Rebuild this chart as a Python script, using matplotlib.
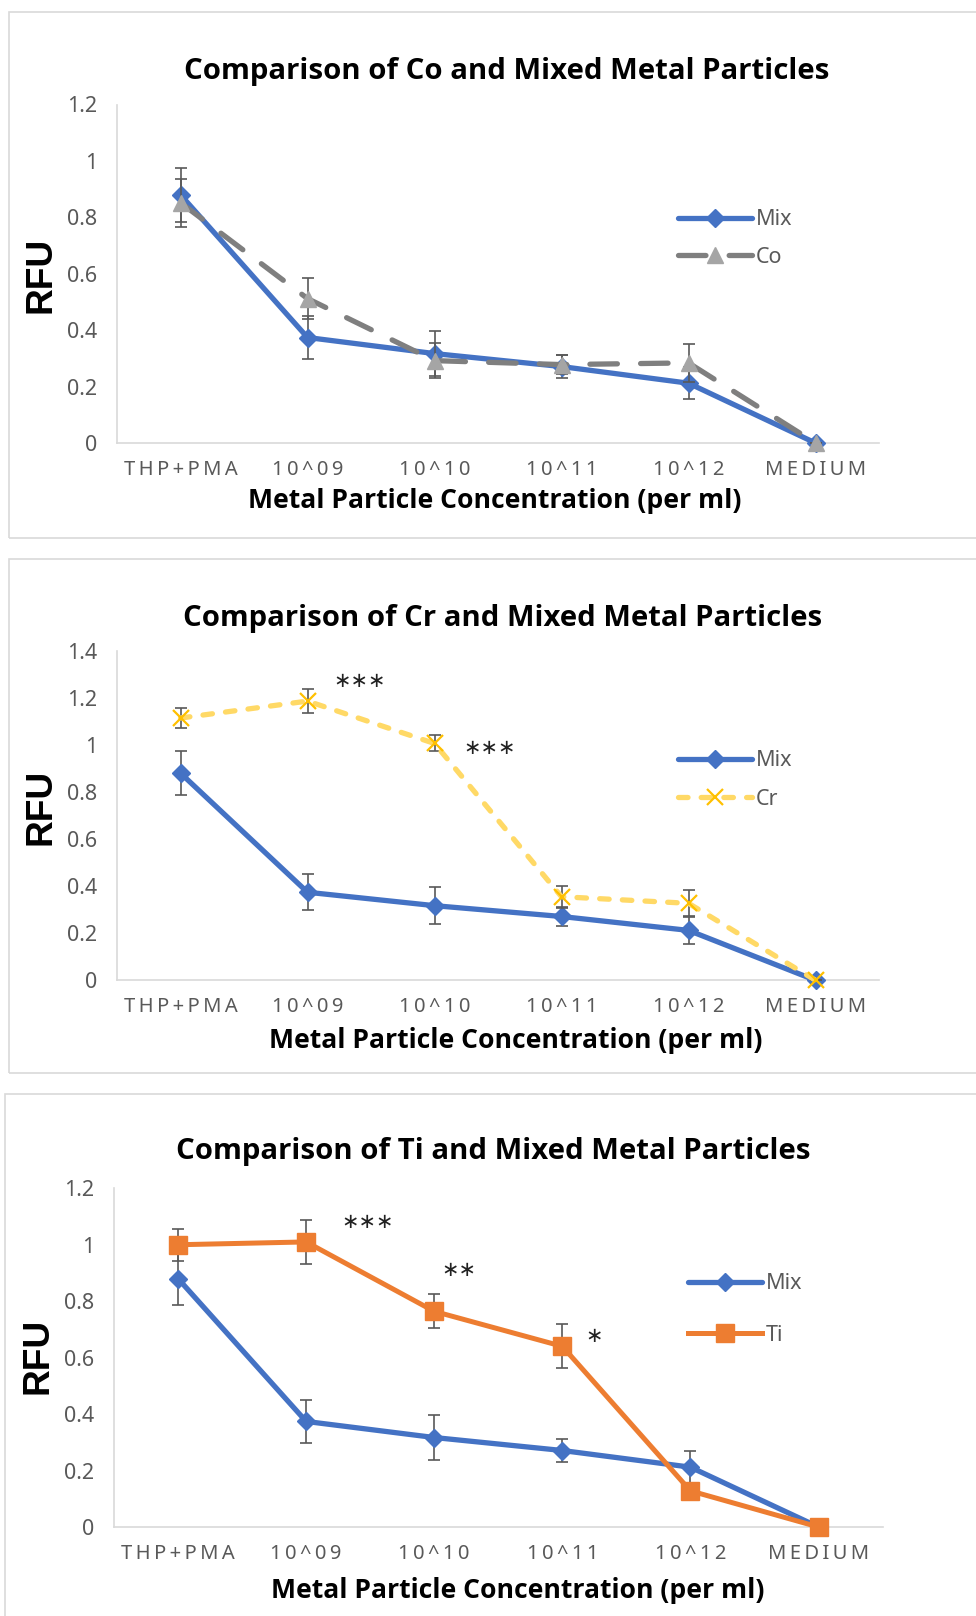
import matplotlib
matplotlib.use("Agg")
import matplotlib.pyplot as plt
from matplotlib.patches import Rectangle

# ---------------- data ----------------
categories = ["THP+PMA", "10^09", "10^10", "10^11", "10^12", "MEDIUM"]

mix = [0.880, 0.374, 0.317, 0.271, 0.212, 0.0]
mix_err = [0.095, 0.076, 0.079, 0.040, 0.057, 0.0]

co = [0.852, 0.512, 0.292, 0.278, 0.284, 0.0]
co_err = [0.085, 0.074, 0.062, 0.034, 0.068, 0.0]

cr = [1.114, 1.186, 1.006, 0.355, 0.327, 0.0]
cr_err = [0.042, 0.050, 0.034, 0.047, 0.055, 0.0]

ti = [1.000, 1.010, 0.764, 0.640, 0.128, 0.0]
ti_err = [0.057, 0.078, 0.060, 0.078, 0.020, 0.0]

titles = ["Comparison of Co and Mixed Metal Particles",
          "Comparison of Cr and Mixed Metal Particles",
          "Comparison of Ti and Mixed Metal Particles"]
xlabel_text = "Metal Particle Concentration (per ml)"
ylabel_text = "RFU"

# ---------------- style ----------------
W, H = 976, 1616
fig = plt.figure(figsize=(W / 100, H / 100), dpi=100)
fig.patch.set_facecolor("white")

def fx(p):
    return p / W

def fy(p):
    return 1 - p / H

GREY_TXT = "#595959"
AXIS_C = "#D9D9D9"
BLUE = "#4472C4"
LIGHT_FONT = ["Noto Sans", "DejaVu Sans"]
BOLD_FONT = ["Open Sans", "Noto Sans CJK SC", "DejaVu Sans"]

renderer = fig.canvas.get_renderer()

def fit_width(t, target):
    w = t.get_window_extent(renderer).width
    t.set_fontsize(t.get_fontsize() * target / w)

def fit_height(t, target):
    h = t.get_window_extent(renderer).height
    t.set_fontsize(t.get_fontsize() * target / h)

comp_styles = {
    "Co": dict(color="#7F7F7F", marker="^", mfc="#A5A5A5", mec="#A5A5A5",
               ms=12, lw=3.8, dashes=(5.2, 4.4), dash_capstyle="round"),
    "Cr": dict(color="#FFD966", marker="x", mfc="#FFC000", mec="#FFC000",
               ms=11, mew=1.6, lw=3.8, dashes=(1.8, 2.5), dash_capstyle="round"),
    "Ti": dict(color="#ED7D31", marker="s", mfc="#ED7D31", mec="#ED7D31",
               ms=12.5, lw=3.6),
}

panels = [
    dict(frame=(9, 11.5, 1000, 538), ax=(117, 879, 104.5, 443), ymax=1.2,
         yticks=[0, 0.2, 0.4, 0.6, 0.8, 1.0, 1.2],
         name="Co", vals=co, errs=co_err,
         title=(506.5, 72, 646), xlab=(495, 501, 493), rfu=(41, 275),
         legend=(678, 238.5), legspace=0.75, notes=[]),
    dict(frame=(9, 558.5, 1000, 1073), ax=(117, 879, 650.7, 980.3), ymax=1.4,
         yticks=[0, 0.2, 0.4, 0.6, 0.8, 1.0, 1.2, 1.4],
         name="Cr", vals=cr, errs=cr_err,
         title=(503, 619, 638), xlab=(516, 1040, 492), rfu=(41, 807),
         legend=(678, 780), legspace=0.82,
         notes=[("***", 1.413, 1.273), ("***", 2.437, 0.988)]),
    dict(frame=(5, 1094, 1000, 1700), ax=(114, 882.6, 1188.3, 1527), ymax=1.2,
         yticks=[0, 0.2, 0.4, 0.6, 0.8, 1.0, 1.2],
         name="Ti", vals=ti, errs=ti_err,
         title=(493, 1151, 633), xlab=(518, 1591, 492), rfu=(38, 1356),
         legend=(688, 1309.5), legspace=1.4,
         notes=[("***", 1.483, 1.081), ("**", 2.193, 0.911), ("*", 3.247, 0.677)]),
]

x = list(range(len(categories)))
tick_labels = ["\u2006".join(c) for c in categories]

for i, p in enumerate(panels):
    # outer frame of each chart
    fl, ft, fr, fb = p["frame"]
    fig.patches.append(Rectangle((fx(fl), fy(fb)), fx(fr) - fx(fl), fy(ft) - fy(fb),
                                 transform=fig.transFigure, fill=False,
                                 edgecolor=AXIS_C, lw=1.2, zorder=0))
    l, r, t, b = p["ax"]
    ax = fig.add_axes([fx(l), fy(b), fx(r) - fx(l), fy(t) - fy(b)])
    ax.set_xlim(-0.5, len(categories) - 0.5)
    ax.set_ylim(0, p["ymax"])
    for s in ["top", "right"]:
        ax.spines[s].set_visible(False)
    for s in ["left", "bottom"]:
        ax.spines[s].set_color(AXIS_C)
        ax.spines[s].set_linewidth(1.2)
    ax.set_yticks(p["yticks"])
    ax.set_yticklabels([("%g" % v) for v in p["yticks"]])
    ax.set_xticks(x)
    ax.set_xticklabels(tick_labels)
    ax.tick_params(axis="both", length=0, colors=GREY_TXT)
    ax.tick_params(axis="y", pad=14)
    ax.tick_params(axis="x", pad=12)
    for lab in ax.get_yticklabels():
        lab.set_fontfamily(LIGHT_FONT)
        lab.set_fontweight("light")
        lab.set_fontsize(15.5)
    for lab in ax.get_xticklabels():
        lab.set_fontfamily(LIGHT_FONT)
        lab.set_fontweight("light")
        lab.set_fontsize(14.5)

    # Mix series
    ax.errorbar(x, mix, yerr=mix_err, fmt="none", ecolor=GREY_TXT,
                elinewidth=1.2, capsize=4, capthick=1.2, zorder=2)
    ax.plot(x, mix, color=BLUE, lw=3.8, marker="D", ms=9.5, mfc=BLUE, mec=BLUE,
            label="Mix", zorder=3, solid_capstyle="round", clip_on=False)
    # comparison series
    ax.errorbar(x, p["vals"], yerr=p["errs"], fmt="none", ecolor=GREY_TXT,
                elinewidth=1.2, capsize=4, capthick=1.2, zorder=4)
    ax.plot(x, p["vals"], label=p["name"], zorder=5, clip_on=False,
            **comp_styles[p["name"]])

    for txt, xx, yy in p["notes"]:
        ax.text(xx, yy, "\u2217" * len(txt), ha="center", va="center",
                fontsize=15, color="#222222", family="DejaVu Sans", zorder=6)

    leg = ax.legend(loc="center left", bbox_to_anchor=(fx(p["legend"][0]), fy(p["legend"][1])),
                    bbox_transform=fig.transFigure, frameon=False, borderpad=0,
                    borderaxespad=0, handlelength=3.45, handletextpad=0.15,
                    labelspacing=p["legspace"], numpoints=1,
                    prop=dict(family=LIGHT_FONT, weight="light", size=15.5))
    for tx in leg.get_texts():
        tx.set_color(GREY_TXT)

    # title
    tx_, ty_, tw_ = p["title"]
    tt = fig.text(fx(tx_), fy(ty_), titles[i], ha="center", va="center",
                  family=BOLD_FONT, weight="bold", fontsize=20, color="black")
    fit_width(tt, tw_)
    # x label
    lx_, ly_, lw_ = p["xlab"]
    xt = fig.text(fx(lx_), fy(ly_), xlabel_text, ha="center", va="center",
                  family=BOLD_FONT, weight="bold", fontsize=17, color="black")
    fit_width(xt, lw_)
    # y label
    rx_, ry_ = p["rfu"]
    yt = fig.text(fx(rx_), fy(ry_), ylabel_text, ha="center", va="center",
                  rotation=90, family=["Liberation Sans", "DejaVu Sans"],
                  weight="bold", fontsize=26, color="black")
    fit_height(yt, 76)

fig.savefig("out.png", dpi=100, facecolor="white")
